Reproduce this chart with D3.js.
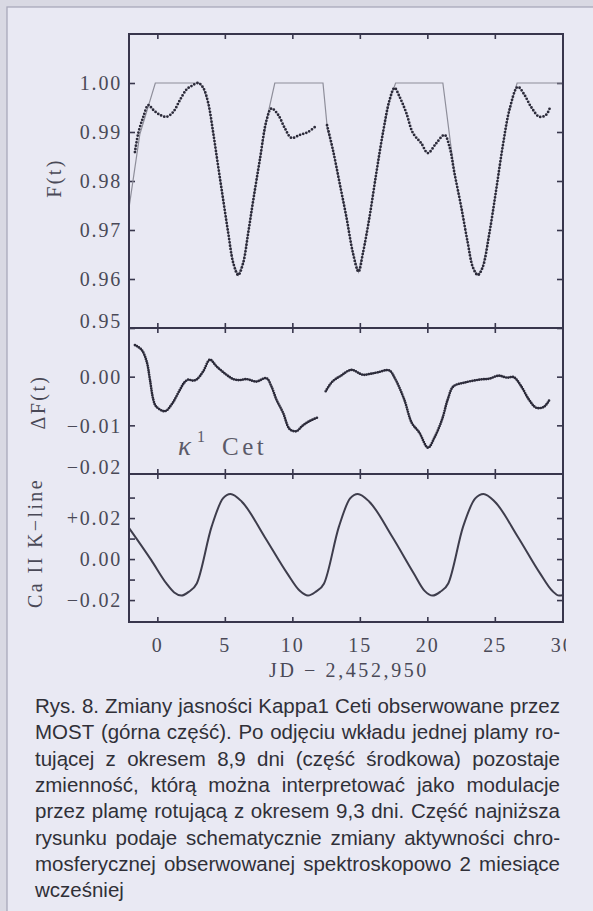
<!DOCTYPE html>
<html><head><meta charset="utf-8">
<script src="https://cdn.jsdelivr.net/npm/d3@7"></script>
<style>html,body{margin:0;padding:0;background:#e9e9f3;}svg{display:block;}</style>
</head><body>
<svg id="c" width="593" height="911"></svg>
<script>
// ---------- data ----------
const xTicks = [0, 5, 10, 15, 20, 25, 30];
const xFrameTicks = [0, 5, 10, 15, 20, 25];
const fTicks = [0.95, 0.96, 0.97, 0.98, 0.99, 1.00];
const dfTicks = [-0.01, 0.00];
const dfLabels = [-0.02, -0.01, 0.00];
const caTicks = [-0.02, -0.01, 0.00, 0.01, 0.02, 0.03];
const caLabels = [-0.02, 0.00, 0.02];

// F(t) observed, first segment
const fDaysA = [-1.66,-1.41,-1.04,-0.67,-0.30,0.19,0.69,1.18,1.67,2.17,2.54,3.03,3.40,3.77,4.14,4.51,4.88,5.25,5.62,5.99,6.36,6.73,7.10,7.59,8.09,8.45,8.95,9.44,9.93,10.55,11.16,11.83];
const fValsA = [0.9859,0.9898,0.9931,0.9955,0.9945,0.9935,0.9931,0.9941,0.9965,0.9987,0.9994,1.0000,0.9990,0.9959,0.9898,0.9829,0.9761,0.9694,0.9633,0.9608,0.9633,0.9694,0.9760,0.9843,0.9924,0.9948,0.9935,0.9908,0.9888,0.9894,0.9900,0.9914];
// F(t) observed, second segment
const fDaysB = [12.57,13.01,13.50,14.00,14.49,14.90,15.23,15.72,16.22,16.71,17.20,17.57,17.94,18.44,18.93,19.55,20.04,20.66,21.27,21.64,22.01,22.51,23.00,23.37,23.74,24.10,24.60,25.10,25.58,26.08,26.70,27.19,27.69,28.30,28.80,29.10];
const fValsB = [0.9914,0.9863,0.9796,0.9727,0.9653,0.9615,0.9653,0.9727,0.9816,0.9898,0.9965,0.9990,0.9972,0.9939,0.9898,0.9877,0.9857,0.9877,0.9894,0.9870,0.9816,0.9747,0.9673,0.9624,0.9608,0.9624,0.9694,0.9782,0.9870,0.9945,0.9992,0.9976,0.9951,0.9931,0.9935,0.9951];
// one-spot model (grey line)
const mDays = [-2.1,-1.3,-0.15,3.10,3.40,3.77,4.14,4.51,4.88,5.25,5.62,5.99,6.36,6.73,7.10,7.59,8.09,8.70,12.27,12.60,13.01,13.50,14.00,14.49,14.90,15.23,15.72,16.22,16.71,17.20,17.65,21.15,21.75,22.01,22.51,23.00,23.37,23.74,24.10,24.60,25.10,25.58,26.08,26.65,30.1];
const mVals = [0.9745,0.9895,1.0,1.0,0.9990,0.9959,0.9898,0.9829,0.9761,0.9694,0.9633,0.9608,0.9633,0.9694,0.9760,0.9843,0.9924,1.0,1.0,0.9905,0.9863,0.9796,0.9727,0.9653,0.9615,0.9653,0.9727,0.9816,0.9898,0.9965,1.0,1.0,0.9870,0.9816,0.9747,0.9673,0.9624,0.9608,0.9624,0.9694,0.9782,0.9870,0.9945,1.0,1.0];

// Delta F(t) residuals
const dDaysA = [-1.66,-1.16,-0.79,-0.55,-0.30,-0.10,0.56,1.06,1.67,2.00,2.29,2.60,2.90,3.40,3.89,4.39,5.12,5.62,6.10,6.60,7.34,8.08,8.45,8.82,9.31,9.81,10.30,10.74,11.29,11.86];
const dValsA = [0.0065,0.0055,0.0031,-0.0006,-0.0047,-0.0061,-0.0071,-0.0057,-0.0027,-0.0012,-0.0006,-0.0008,-0.0006,0.0011,0.0035,0.0021,0.0004,-0.0005,-0.0007,-0.0005,-0.0010,-0.0003,-0.0020,-0.0047,-0.0074,-0.0108,-0.0112,-0.0101,-0.0091,-0.0084];
const dDaysB = [12.47,12.97,13.60,14.37,15.21,15.80,16.33,17.17,17.59,18.29,18.85,19.41,20.05,20.53,21.09,21.51,21.93,22.77,23.88,24.60,25.28,25.90,26.40,26.96,27.52,28.08,28.64,29.06];
const dValsB = [-0.0030,-0.0010,0.0002,0.0014,0.0004,0.0006,0.0009,0.0013,-0.0003,-0.0047,-0.0095,-0.0115,-0.0146,-0.0125,-0.0088,-0.0047,-0.0020,-0.0012,-0.0006,-0.0004,0.0002,-0.0002,-0.0001,-0.0020,-0.0047,-0.0064,-0.0062,-0.0047];

// Ca II K-line schematic
const caDays = [-2.08,-0.45,0.67,1.25,1.78,2.32,2.92,4.02,4.86,5.42,6.26,7.94,9.62,10.55,11.16,11.72,12.35,13.45,14.28,14.85,15.70,17.40,19.00,19.80,20.39,20.95,21.55,22.65,23.55,24.16,25.00,26.70,28.35,29.25,29.76,30.05];
const caVals = [0.0150,-0.0005,-0.0119,-0.0163,-0.0178,-0.0160,-0.0119,0.0158,0.0296,0.0318,0.0280,0.0109,-0.0070,-0.0155,-0.0178,-0.0160,-0.0119,0.0158,0.0296,0.0318,0.0280,0.0109,-0.0070,-0.0155,-0.0178,-0.0160,-0.0119,0.0158,0.0296,0.0318,0.0280,0.0109,-0.0070,-0.0155,-0.0178,-0.0176];

const captionLines = [
  "Rys. 8. Zmiany jasności Kappa1 Ceti obserwowane przez",
  "MOST (górna część). Po odjęciu wkładu jednej plamy ro-",
  "tującej z okresem 8,9 dni (część środkowa) pozostaje",
  "zmienność, którą można interpretować jako modulacje",
  "przez plamę rotującą z okresem 9,3 dni. Część najniższa",
  "rysunku podaje schematycznie zmiany aktywności chro-",
  "mosferycznej obserwowanej spektroskopowo 2 miesiące",
  "wcześniej"
];

// ---------- drawing ----------
const svg = d3.select("#c");
const L = 129, R = 563;
const P1 = [34, 328], P2 = [328, 474], P3 = [474, 622];
const FRAME = "#38364c", INK = "#2c2b3a", TXT = "#4a4957";
const serif = "'Liberation Serif', 'Times New Roman', serif";

svg.append("rect").attr("width", 593).attr("height", 911).attr("fill", "#d9d9e3");
svg.append("rect").attr("x", 7).attr("y", 7).attr("width", 620).attr("height", 920)
  .attr("fill", "#e9e9f3").attr("stroke", "#a9a9ba").attr("stroke-width", 1.3);

const x = d3.scaleLinear().domain([-2.1, 30.05]).range([L, R]);
const yF = d3.scaleLinear().domain([0.95, 1.01]).range([P1[1], P1[0]]);
const yD = d3.scaleLinear().domain([-0.02, 0.01]).range([P2[1], P2[0]]);
const yC = d3.scaleLinear().domain([-0.0307, 0.0415]).range([P3[1], P3[0]]);

function styleAxis(g) {
  g.select(".domain").remove();
  g.selectAll(".tick line").attr("stroke", FRAME).attr("stroke-width", 1.6);
  g.selectAll(".tick text").attr("fill", TXT).attr("font-family", serif)
    .attr("font-size", 20).attr("letter-spacing", "1.8px");
}

// panel y axes (left with labels, right ticks only)
function yAxes(scale, ticks, labels, fmt, top, bottom) {
  const gl = svg.append("g").attr("transform", `translate(${L},0)`)
    .call(d3.axisLeft(scale).tickValues(ticks).tickSize(-6).tickPadding(8).tickFormat(() => ""));
  styleAxis(gl);
  const gr = svg.append("g").attr("transform", `translate(${R},0)`)
    .call(d3.axisRight(scale).tickValues(ticks).tickSize(-6).tickFormat(() => ""));
  styleAxis(gr);
  const gt = svg.append("g").attr("transform", `translate(${L},0)`)
    .call(d3.axisLeft(scale).tickValues(labels).tickSize(0).tickPadding(7).tickFormat(fmt));
  styleAxis(gt);
  gt.selectAll(".tick text").attr("dy", d => {
    const py = scale(d);
    if (py > bottom - 3) return "-0.02em";
    return "0.34em";
  });
}
const f2 = d3.format(".2f");
yAxes(yF, fTicks, fTicks, f2, P1[0], P1[1]);
yAxes(yD, dfTicks, dfLabels, f2, P2[0], P2[1]);
yAxes(yC, caTicks, caLabels, d => d > 0 ? "+" + f2(d) : f2(d), P3[0], P3[1]);

// x ticks on every panel edge (inward)
[[P1[0], 1], [P1[1], -1], [P2[0], 1], [P2[1], -1], [P3[0], 1], [P3[1], -1]].forEach(([yy, dir]) => {
  const ax = dir > 0 ? d3.axisTop(x) : d3.axisBottom(x);
  const g = svg.append("g").attr("transform", `translate(0,${yy})`)
    .call(ax.tickValues(xFrameTicks).tickSize(-5).tickFormat(() => ""));
  styleAxis(g);
});

// x tick labels (clipped at the right edge as in the scan)
svg.append("clipPath").attr("id", "xclip").append("rect")
  .attr("x", 0).attr("y", 600).attr("width", 566).attr("height", 80);
const gxWrap = svg.append("g").attr("clip-path", "url(#xclip)");
const gx = gxWrap.append("g").attr("transform", `translate(0,${P3[1]})`)
  .call(d3.axisBottom(x).tickValues(xTicks).tickSize(0).tickPadding(16).tickFormat(d3.format("d")));
styleAxis(gx);
gx.selectAll(".tick text").attr("letter-spacing", "2px");

svg.append("text").attr("x", 349).attr("y", 677).attr("text-anchor", "middle")
  .attr("font-family", serif).attr("font-size", 20).attr("letter-spacing", "2.6px")
  .attr("fill", TXT).text("JD \u2212 2,452,950");

// y titles
[["F(t)", 54, 178], ["\u0394F(t)", 38, 402], ["Ca II K\u2212line", 35, 543]].forEach(([t, cx, cy]) => {
  svg.append("text").attr("transform", `translate(${cx},${cy}) rotate(-90)`)
    .attr("text-anchor", "middle").attr("dy", "0.35em")
    .attr("font-family", serif).attr("font-size", 20).attr("letter-spacing", "2.4px")
    .attr("fill", TXT).text(t);
});

// ---------- marks ----------
const clip = svg.append("clipPath").attr("id", "plotclip");
clip.append("rect").attr("x", L).attr("y", P1[0]).attr("width", R - L).attr("height", P3[1] - P1[0]);
const plot = svg.append("g").attr("clip-path", "url(#plotclip)");

// model line
const lineF = d3.line().x(d => x(d[0])).y(d => yF(d[1])).curve(d3.curveCatmullRom.alpha(0.5));
plot.append("path").datum(d3.zip(mDays, mVals)).attr("d", d3.line().x(d => x(d[0])).y(d => yF(d[1])))
  .attr("fill", "none").attr("stroke", "#8e8e9a").attr("stroke-width", 1.2);

// observed F(t), dotted
[[fDaysA, fValsA], [fDaysB, fValsB]].forEach(([ds, vs]) => {
  plot.append("path").datum(d3.zip(ds, vs)).attr("d", lineF)
    .attr("fill", "none").attr("stroke", INK).attr("stroke-width", 2.8)
    .attr("stroke-linecap", "round").attr("stroke-dasharray", "0 3.3");
});

// Delta F(t)
const lineD = d3.line().x(d => x(d[0])).y(d => yD(d[1])).curve(d3.curveCatmullRom.alpha(0.5));
[[dDaysA, dValsA], [dDaysB, dValsB]].forEach(([ds, vs]) => {
  plot.append("path").datum(d3.zip(ds, vs)).attr("d", lineD)
    .attr("fill", "none").attr("stroke", INK).attr("stroke-width", 2.7)
    .attr("stroke-linecap", "round").attr("stroke-dasharray", "0 2.3");
});

// Ca II
const lineC = d3.line().x(d => x(d[0])).y(d => yC(d[1])).curve(d3.curveMonotoneX);
plot.append("path").datum(d3.zip(caDays, caVals)).attr("d", lineC)
  .attr("fill", "none").attr("stroke", "#3e3d4c").attr("stroke-width", 2);

// kappa^1 Cet
const kg = svg.append("g").attr("fill", "#5b5a68").attr("font-family", serif);
kg.append("text").attr("x", 178).attr("y", 455).attr("font-size", 27).attr("font-style", "italic").text("\u03BA");
kg.append("text").attr("x", 197).attr("y", 442).attr("font-size", 16).text("1");
kg.append("text").attr("x", 222).attr("y", 455).attr("font-size", 25).attr("letter-spacing", "3.5px").text("Cet");

// frames
[P1, P2, P3].forEach(p => {
  svg.append("rect").attr("x", L).attr("y", p[0]).attr("width", R - L).attr("height", p[1] - p[0])
    .attr("fill", "none").attr("stroke", FRAME).attr("stroke-width", 2);
});

// ---------- caption (justified) ----------
const cap = svg.append("g").attr("font-family", "'Liberation Sans', Arial, sans-serif")
  .attr("font-size", 20.5).attr("fill", "#303038");
const cx0 = 35, cx1 = 560, cy0 = 713, lh = 26.3;
captionLines.forEach((line, i) => {
  const words = line.split(" ");
  const y = cy0 + i * lh;
  const nodes = words.map(w => cap.append("text").attr("y", y).text(w));
  const widths = nodes.map(n => n.node().getComputedTextLength());
  const last = i === captionLines.length - 1;
  const gap = (last || words.length < 2) ? 5.7 : (cx1 - cx0 - d3.sum(widths)) / (words.length - 1);
  let cx = cx0;
  nodes.forEach((n, k) => { n.attr("x", cx); cx += widths[k] + gap; });
});
</script>
</body></html>
